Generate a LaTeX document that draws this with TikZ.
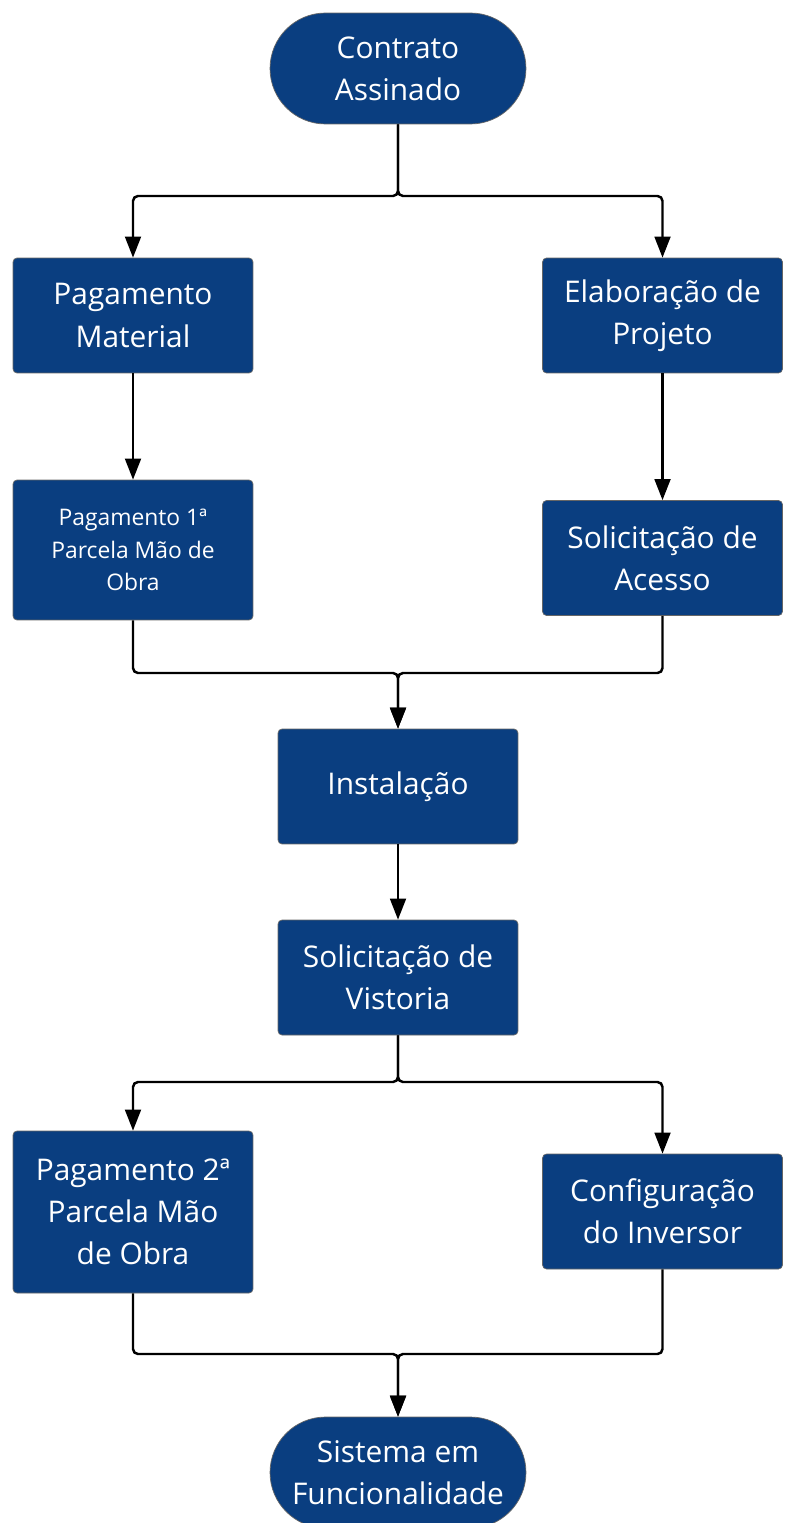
\documentclass[tikz,border=0pt]{standalone}
\usepackage{fontspec}
\setmainfont{Open Sans}
\usetikzlibrary{arrows.meta}
\definecolor{azul}{RGB}{10,62,128}
\tikzset{
  caixa/.style={rectangle, rounded corners=0.08cm, fill=azul, draw=black!60, line width=0.4pt,
    text=white, align=center, minimum width=4.8cm, minimum height=2.3cm, inner sep=2pt,
    font=\fontsize{17}{24}\selectfont},
  terminal/.style={caixa, minimum width=5.12cm, minimum height=2.22cm, rounded corners=1.11cm},
  seta/.style={line width=1.4pt, rounded corners=0.1cm, -{Triangle[length=12pt,width=9pt]}}
}

\begin{document}
\begin{tikzpicture}[x=0.02cm, y=-0.02cm]
    \useasboundingbox (0,0) rectangle (786,1523);

    % etapas
    \node[terminal] (contrato) at (398,68.5) {Contrato\\Assinado};
    \node[caixa] (material) at (133,315.5) {Pagamento\\Material};
    \node[caixa] (projeto) at (662.5,315.5) {Elaboração de\\Projeto};
    \node[caixa, minimum height=2.8cm, font=\fontsize{13}{18.4}\selectfont] (parcela1) at (133,550) {Pagamento 1ª\\Parcela Mão de\\Obra};
    \node[caixa] (acesso) at (662.5,558) {Solicitação de\\Acesso};
    \node[caixa] (instalacao) at (398,786.5) {Instalação};
    \node[caixa] (vistoria) at (398,977.5) {Solicitação de\\Vistoria};
    \node[caixa, minimum height=3.24cm] (parcela2) at (133,1212) {Pagamento 2ª\\Parcela Mão\\de Obra};
    \node[caixa] (inversor) at (662.5,1211.5) {Configuração\\do Inversor};
    \node[terminal] (sistema) at (398,1472.5) {Sistema em\\Funcionalidade};

    % pontos de ramificação
    \coordinate (r1) at (398,196);
    \coordinate (r2) at (398,673);
    \coordinate (r3) at (398,1082);
    \coordinate (r4) at (398,1354);

    \draw[seta] (contrato.south) -- (r1) -| (material.north);
    \draw[seta] (contrato.south) -- (r1) -| (projeto.north);
    \draw[seta] (material) -- (parcela1);
    \draw[seta] (projeto) -- (acesso);
    \draw[seta] (parcela1.south) |- (r2) -- (instalacao.north);
    \draw[seta] (acesso.south) |- (r2) -- (instalacao.north);
    \draw[seta] (instalacao) -- (vistoria);
    \draw[seta] (vistoria.south) -- (r3) -| (parcela2.north);
    \draw[seta] (vistoria.south) -- (r3) -| (inversor.north);
    \draw[seta] (parcela2.south) |- (r4) -- (sistema.north);
    \draw[seta] (inversor.south) |- (r4) -- (sistema.north);
\end{tikzpicture}
\end{document}
